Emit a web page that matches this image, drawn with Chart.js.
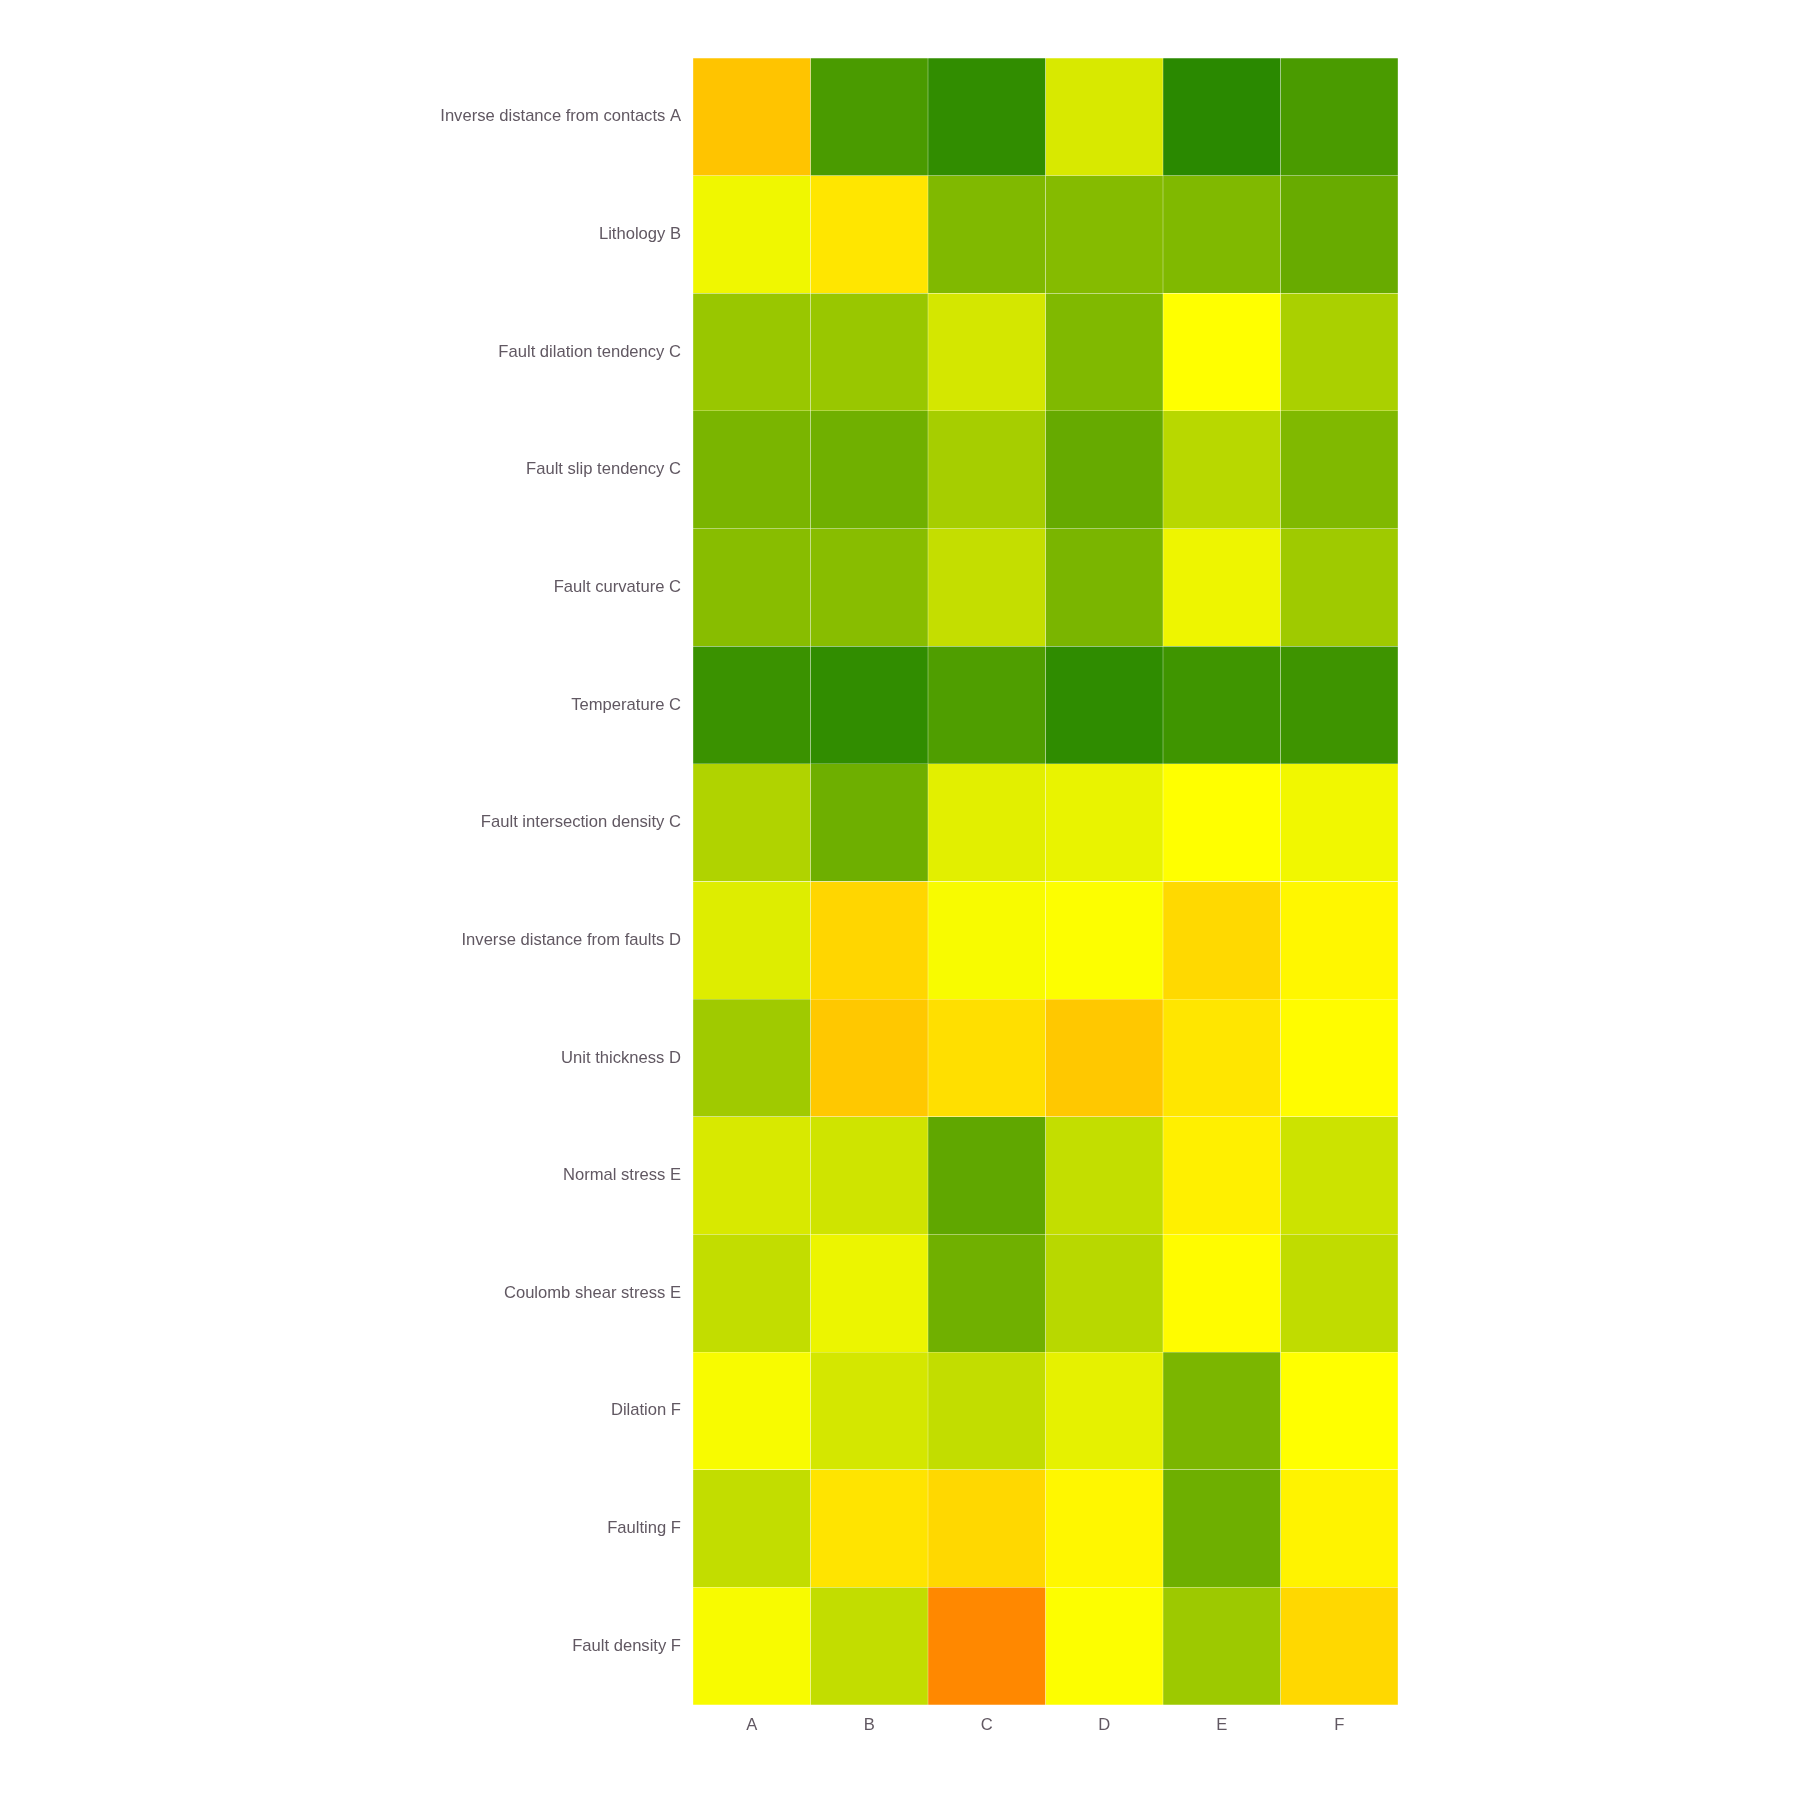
<!DOCTYPE html>
<html>
<head>
<meta charset="utf-8">
<script src="https://cdn.jsdelivr.net/npm/chart.js@4"></script>
<style>
  html, body { margin: 0; padding: 0; background: #fff; }
  #wrap { width: 1800px; height: 1800px; }
</style>
</head>
<body>
<div id="wrap"><canvas id="heat" width="1800" height="1800"></canvas></div>
<script>
// rows (top to bottom) and columns
const rows = [
    'Inverse distance from contacts A',
    'Lithology B',
    'Fault dilation tendency C',
    'Fault slip tendency C',
    'Fault curvature C',
    'Temperature C',
    'Fault intersection density C',
    'Inverse distance from faults D',
    'Unit thickness D',
    'Normal stress E',
    'Coulomb shear stress E',
    'Dilation F',
    'Faulting F',
    'Fault density F'
];
const cols = ['A', 'B', 'C', 'D', 'E', 'F'];

// one array per column, values per row (0 = orange, 0.5 = yellow, 1 = green)
const colA = [0.252, 0.535, 0.737, 0.809, 0.777, 0.958, 0.684, 0.577, 0.721, 0.591, 0.642, 0.516, 0.642, 0.516];
const colB = [0.921, 0.395, 0.737, 0.833, 0.777, 0.979, 0.837, 0.328, 0.269, 0.612, 0.544, 0.600, 0.387, 0.642];
const colC = [0.979, 0.795, 0.600, 0.707, 0.637, 0.909, 0.567, 0.516, 0.366, 0.870, 0.833, 0.642, 0.336, 0.000];
const colD = [0.591, 0.784, 0.795, 0.856, 0.809, 0.984, 0.551, 0.505, 0.269, 0.640, 0.665, 0.558, 0.466, 0.505];
const colE = [0.995, 0.795, 0.500, 0.665, 0.540, 0.947, 0.500, 0.340, 0.395, 0.437, 0.487, 0.807, 0.837, 0.728];
const colF = [0.921, 0.851, 0.698, 0.795, 0.723, 0.949, 0.533, 0.466, 0.487, 0.619, 0.647, 0.500, 0.450, 0.336];
const columns = [colA, colB, colC, colD, colE, colF];

// colour scale stops
const scaleStops = [
    [0.0, [255, 136, 0]],
    [0.5, [255, 255, 0]],
    [1.0, [40, 136, 0]]
];

function colorFor(v) {
    for (let i = 1; i < scaleStops.length; i++) {
        const a = scaleStops[i - 1], b = scaleStops[i];
        if (v <= b[0]) {
            const t = (v - a[0]) / (b[0] - a[0]);
            const c = a[1].map((x, k) => Math.round(x + (b[1][k] - x) * t));
            return 'rgb(' + c.join(',') + ')';
        }
    }
    const last = scaleStops[scaleStops.length - 1][1];
    return 'rgb(' + last.join(',') + ')';
}

const labelFont = { family: "'Liberation Sans', Arial, Helvetica, sans-serif", size: 16.6 };
const labelColor = '#615862';

const datasets = columns.map((vals, i) => ({
    label: cols[i],
    data: vals.map(() => 1),
    values: vals,
    backgroundColor: vals.map(colorFor),
    borderColor: 'rgba(255,255,255,0.07)',
    borderWidth: 0.5,
    borderSkipped: false,
    barPercentage: 1,
    categoryPercentage: 1
}));

let ctx = document.getElementById('heat').getContext('2d');
let heat = new Chart(ctx, {
    type: 'bar',
    data: { labels: rows, datasets: datasets },
    options: {
        indexAxis: 'y',
        responsive: false,
        animation: false,
        layout: { padding: { top: 58, right: 402, bottom: 0, left: 0 } },
        plugins: {
            legend: { display: false },
            tooltip: {
                callbacks: {
                    label: c => c.dataset.label + ': ' + c.dataset.values[c.dataIndex]
                }
            }
        },
        scales: {
            x: {
                type: 'linear',
                stacked: true,
                min: 0,
                max: cols.length,
                grid: { display: false, drawTicks: false },
                border: { display: false },
                afterBuildTicks: s => { s.ticks = cols.map((c, i) => ({ value: i + 0.5 })); },
                afterFit: s => { s.height = 95; },
                ticks: {
                    autoSkip: false,
                    maxRotation: 0,
                    padding: 10,
                    color: labelColor,
                    font: labelFont,
                    callback: v => cols[Math.floor(v)]
                }
            },
            y: {
                stacked: true,
                grid: { display: false, drawTicks: false },
                border: { display: false },
                afterFit: s => { s.width = 693; },
                ticks: {
                    padding: 12,
                    color: labelColor,
                    font: labelFont
                }
            }
        }
    }
});
</script>
</body>
</html>
